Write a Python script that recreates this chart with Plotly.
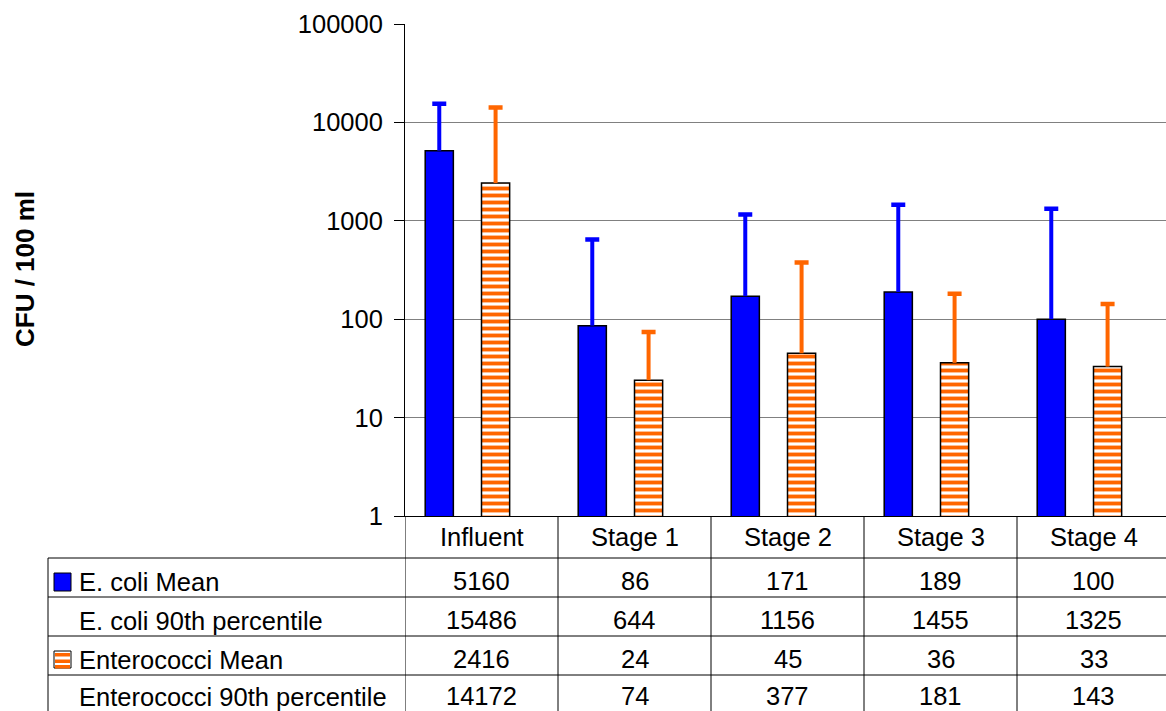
import plotly.graph_objects as go

categories = ["Influent", "Stage 1", "Stage 2", "Stage 3", "Stage 4"]
ecoli_mean = [5160, 86, 171, 189, 100]
ecoli_p90 = [15486, 644, 1156, 1455, 1325]
entero_mean = [2416, 24, 45, 36, 33]
entero_p90 = [14172, 74, 377, 181, 143]
row_labels = ["E. coli Mean", "E. coli 90th percentile",
              "Enterococci Mean", "Enterococci 90th percentile"]
y_tickvals = [1, 10, 100, 1000, 10000, 100000]
y_ticktext = ["1", "10", "100", "1000", "10000", "100000"]

# body margin is removed below, so figure coords = screen coords
W, H = 1170, 711
SL, ST, SR, SB = 405, 24, 1170, 516          # plot area in pixels
PW, PH = SR - SL, SB - ST
FONT = "Liberation Sans, Arial, sans-serif"
FS = 25.5
BLUE = "#0000FF"
ORANGE = "#FF6600"


def xp(px):
    return (px - SL) / PW


def yp(py):
    return (SB - py) / PH


# Excel-like clustered layout: 4 series slots (means + percentile series)
group_w = 0.736
slot = group_w / 4


def slot_offset(k):
    return -group_w / 2 + k * slot


fig = go.Figure()


def add_series(mean, p90, name, k, color, marker):
    # bar with stem up to the 90th percentile
    fig.add_trace(go.Bar(
        x=categories, y=mean, name=name, offset=slot_offset(k), width=slot,
        marker=marker,
        error_y=dict(type="data", symmetric=False,
                     array=[p - m for p, m in zip(p90, mean)],
                     arrayminus=[0] * len(mean),
                     color=color, thickness=4, width=0),
    ))
    # cap at the 90th percentile
    fig.add_trace(go.Bar(
        x=categories, y=p90, name=name + " 90th", offset=slot_offset(k), width=slot,
        marker=dict(color="rgba(0,0,0,0)", line=dict(width=0)),
        error_y=dict(type="data", symmetric=False,
                     array=[0] * len(p90), arrayminus=[0] * len(p90),
                     color=color, thickness=4.5, width=7),
        hoverinfo="skip",
    ))


add_series(ecoli_mean, ecoli_p90, row_labels[0], 0, BLUE,
           dict(color=BLUE, line=dict(color="black", width=1.5)))
add_series(entero_mean, entero_p90, row_labels[2], 2, ORANGE,
           dict(color="white", line=dict(color="black", width=1.5),
                pattern=dict(shape="-", fgcolor=ORANGE, bgcolor="white",
                             size=7, solidity=0.55, fillmode="replace")))

shapes = []
line = dict(color="black", width=1)
row_tops = [558, 597, 636, 675]
row_text_y = [581, 620, 659, 696]
for r in row_tops:
    shapes.append(dict(type="line", xref="paper", yref="paper",
                       x0=xp(48), x1=1, y0=yp(r), y1=yp(r), line=line))
shapes.append(dict(type="line", xref="paper", yref="paper",
                   x0=xp(48), x1=xp(48), y0=yp(558), y1=yp(730), line=line))
for i in range(len(categories) + 1):
    shapes.append(dict(type="line", xref="x", yref="paper",
                       x0=i - 0.5, x1=i - 0.5, y0=0, y1=yp(730), line=line))
# legend keys
shapes.append(dict(type="rect", xref="paper", yref="paper",
                   x0=xp(54), x1=xp(71), y0=yp(591), y1=yp(573),
                   fillcolor=BLUE, line=dict(color="black", width=1)))
shapes.append(dict(type="rect", xref="paper", yref="paper",
                   x0=xp(54), x1=xp(71), y0=yp(668), y1=yp(651),
                   fillcolor="white", line=dict(color="black", width=1)))
for s in [653, 659.5, 665]:
    shapes.append(dict(type="rect", xref="paper", yref="paper",
                       x0=xp(55), x1=xp(70), y0=yp(s + 3.5), y1=yp(s),
                       fillcolor=ORANGE, line=dict(width=0)))

annotations = []
tfont = dict(size=FS, family=FONT, color="black")
for c in categories:
    annotations.append(dict(x=c, xref="x", y=yp(537), yref="paper",
                            text=c, showarrow=False, xanchor="center",
                            yanchor="middle", font=tfont))
rows = [ecoli_mean, ecoli_p90, entero_mean, entero_p90]
for r_i, (lab, vals) in enumerate(zip(row_labels, rows)):
    yc = row_text_y[r_i]
    annotations.append(dict(x=xp(77), xref="paper", y=yp(yc + 1), yref="paper",
                            text=lab, showarrow=False, xanchor="left",
                            yanchor="middle", font=tfont))
    for c, v in zip(categories, vals):
        annotations.append(dict(x=c, xref="x", y=yp(yc), yref="paper",
                                text=str(v), showarrow=False, xanchor="center",
                                yanchor="middle", font=tfont))
annotations.append(dict(x=xp(25), xref="paper", y=yp(269), yref="paper",
                        text="<b>CFU / 100 ml</b>", textangle=-90, showarrow=False,
                        xanchor="center", yanchor="middle",
                        font=dict(size=26, family=FONT, color="black")))

fig.update_layout(
    width=W, height=H,
    margin=dict(l=SL, r=max(0, W - SR), t=ST, b=H - SB, autoexpand=False),
    paper_bgcolor="white", plot_bgcolor="white",
    showlegend=False,
    font=dict(family=FONT, size=FS, color="black"),
    shapes=shapes, annotations=annotations,
    xaxis=dict(type="category", range=[-0.5, len(categories) - 0.5],
               automargin=False,
               showticklabels=False, showgrid=False, zeroline=False,
               showline=True, linecolor="black", linewidth=1, ticks=""),
    yaxis=dict(type="log", range=[0, 5], tickvals=y_tickvals, ticktext=y_ticktext,
               automargin=False,
               showgrid=True, gridcolor="#808080", gridwidth=1,
               showline=True, linecolor="black", linewidth=1,
               ticks="outside", ticklen=10, tickcolor="black",
               ticklabelstandoff=6, tickfont=tfont),
)

fig.write_html(
    "out.html",
    config={"displayModeBar": False},
    post_script="document.body.style.margin='0';"
                "document.documentElement.style.overflow='hidden';"
                "document.body.style.overflow='hidden';",
)
